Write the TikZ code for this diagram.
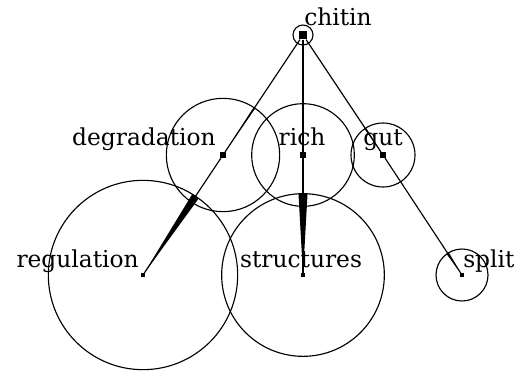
\documentclass[tikz,border=0pt]{standalone}
\usepackage{fontspec}
\setmainfont{DejaVu Serif}
\usetikzlibrary{calc}
\newcommand\taperedge[4]{%
  \coordinate (ws) at ($(#2.center)!#3!(#1.center)$);
  \fill[black] ($(ws)!#4!90:(#2.center)$) -- ($(ws)!#4!-90:(#2.center)$) -- (#2.center) -- cycle;}
\begin{document}
\begin{tikzpicture}[x=0.75pt,y=-0.75pt,
  ring/.style={draw=black,line width=0.85pt},
  conn/.style={draw=black,line width=0.85pt},
  bigpt/.style={fill=black,inner sep=0pt,minimum size=6.5pt,rectangle},
  midpt/.style={fill=black,inner sep=0pt,minimum size=4.2pt,rectangle},
  smallpt/.style={fill=black,inner sep=0pt,minimum size=2.5pt,rectangle},
  lab/.style={font=\fontsize{17.5}{20}\selectfont,inner sep=0pt,text=black}]
\useasboundingbox (0,0) rectangle (524,371);
\node[bigpt] (chitin) at (303,35) {};
\node[midpt] (deg) at (223,155) {};
\node[midpt] (rich) at (303,155) {};
\node[midpt] (gut) at (383,155) {};
\node[smallpt] (reg) at (143,275) {};
\node[smallpt] (str) at (303,275) {};
\node[smallpt] (split) at (462,275) {};
% circles
\draw[ring] (chitin.center) circle[radius=7.5pt];
\draw[ring] (deg.center) circle[radius=42.5pt];
\draw[ring] (rich.center) circle[radius=38.5pt];
\draw[ring] (gut.center) circle[radius=24pt];
\draw[ring] (reg.center) circle[radius=71pt];
\draw[ring] (str.center) circle[radius=61pt];
\draw[ring] (split.center) circle[radius=19.5pt];
% labels
\node[lab,anchor=base west] (lchitin) at (304,25) {chitin};
\node[lab,anchor=base east] (ldeg) at (216,145) {degradation};
\node[lab,anchor=base] (lrich) at (302,145) {rich};
\node[lab,anchor=base] (lgut) at (383,145) {gut};
\node[lab,anchor=base east] (lreg) at (139,267) {regulation};
\node[lab,anchor=base] (lstr) at (301,267) {structures};
\node[lab,anchor=base west] (lsplit) at (463,267) {split};
% connectors
\draw[conn] (chitin) -- (deg);
\draw[conn] (chitin) -- (rich);
\draw[conn] (chitin) -- (gut);
\draw[conn] (deg) -- (reg);
\draw[conn] (rich) -- (str);
\draw[conn] (gut) -- (split);
\taperedge{chitin}{deg}{42.5pt}{0.7pt}
\taperedge{chitin}{rich}{38.5pt}{0.7pt}
\taperedge{chitin}{gut}{24pt}{0.7pt}
\taperedge{deg}{reg}{71pt}{2.9pt}
\taperedge{rich}{str}{61pt}{3.4pt}
\taperedge{gut}{split}{19.5pt}{1pt}
\end{tikzpicture}
\end{document}
